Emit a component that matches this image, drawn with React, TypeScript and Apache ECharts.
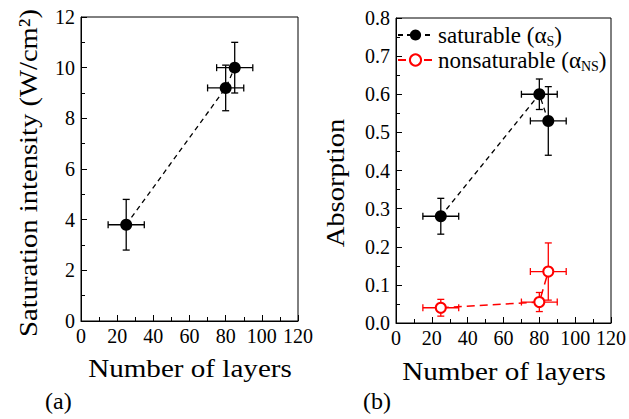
import React, { useEffect, useRef } from "react";
import * as echarts from "echarts";

// ---- data ----
const layers = [25, 80, 85];
const layersErr = [10, 10, 10];
const satIntensity = [3.8, 9.2, 10.0];
const satIntensityErr = [1.0, 0.9, 1.0];
const alphaS = [0.28, 0.6, 0.53];
const alphaSErr = [0.047, 0.04, 0.09];
const alphaNS = [0.04, 0.055, 0.135];
const alphaNSErr = [0.022, 0.025, 0.075];
const seriesNames = ["saturable", "nonsaturable"];
const legendLabels: Record<string, string> = {
  saturable: "saturable (α{sub|S})",
  nonsaturable: "nonsaturable (α{sub|NS})",
};

const FONT = "Liberation Serif";

function errorRenderer(color: string) {
  return (params: any, api: any) => {
    const x = api.value(0);
    const y = api.value(1);
    const xe = api.value(2);
    const ye = api.value(3);
    const top = api.coord([x, y + ye]);
    const bot = api.coord([x, y - ye]);
    const lft = api.coord([x - xe, y]);
    const rgt = api.coord([x + xe, y]);
    const cap = 3.5;
    const style = { stroke: color, lineWidth: 1.3, fill: null };
    const ln = (x1: number, y1: number, x2: number, y2: number) => ({
      type: "line",
      shape: { x1, y1, x2, y2 },
      style,
    });
    return {
      type: "group",
      children: [
        ln(top[0], top[1], bot[0], bot[1]),
        ln(top[0] - cap, top[1], top[0] + cap, top[1]),
        ln(bot[0] - cap, bot[1], bot[0] + cap, bot[1]),
        ln(lft[0], lft[1], rgt[0], rgt[1]),
        ln(lft[0], lft[1] - cap, lft[0], lft[1] + cap),
        ln(rgt[0], rgt[1] - cap, rgt[0], rgt[1] + cap),
      ],
    };
  };
}

function rows(xs: number[], xe: number[], ys: number[], ye: number[]) {
  return xs.map((x, i) => [x, ys[i], xe[i], ye[i]]);
}
function pts(xs: number[], ys: number[]) {
  return xs.map((x, i) => [x, ys[i]]);
}

function xAxisCfg(grid: number) {
  return {
    gridIndex: grid,
    type: "value",
    min: 0,
    max: 120,
    interval: 20,
    axisLine: { lineStyle: { color: "#000", width: 1 } },
    axisTick: { inside: true, length: 6, lineStyle: { color: "#000" } },
    minorTick: { show: true, splitNumber: 2, length: 4, lineStyle: { color: "#000" } },
    splitLine: { show: false },
    axisLabel: { color: "#000", fontFamily: FONT, fontSize: 20, margin: 5 },
  };
}

export default function App() {
  const ref = useRef<HTMLDivElement>(null);
  useEffect(() => {
    document.body.style.margin = "0";
    const chart = echarts.init(ref.current!, null, { renderer: "svg" });
    const option: any = {
      animation: false,
      backgroundColor: "#fff",
      textStyle: { fontFamily: FONT },
      grid: [
        { left: 81, top: 17, width: 217, height: 304, show: true, borderColor: "#000", borderWidth: 1 },
        { left: 396, top: 18, width: 217, height: 305, show: true, borderColor: "#000", borderWidth: 1 },
      ],
      xAxis: [xAxisCfg(0), xAxisCfg(1)],
      yAxis: [
        {
          gridIndex: 0,
          type: "value",
          min: 0,
          max: 12,
          interval: 2,
          axisLine: { show: true, lineStyle: { color: "#000", width: 1 } },
          axisTick: { show: true, inside: true, length: 6, lineStyle: { color: "#000" } },
          minorTick: { show: true, splitNumber: 2, length: 4, lineStyle: { color: "#000" } },
          splitLine: { show: false },
          axisLabel: { color: "#000", fontFamily: FONT, fontSize: 20, margin: 6 },
        },
        {
          gridIndex: 1,
          type: "value",
          min: 0,
          max: 0.8,
          interval: 0.1,
          axisLine: { show: true, lineStyle: { color: "#000", width: 1 } },
          axisTick: { show: true, inside: true, length: 6, lineStyle: { color: "#000" } },
          minorTick: { show: true, splitNumber: 2, length: 4, lineStyle: { color: "#000" } },
          splitLine: { show: false },
          axisLabel: {
            color: "#000",
            fontFamily: FONT,
            fontSize: 20,
            margin: 6,
            formatter: (v: number) => v.toFixed(1),
          },
        },
      ],
      legend: {
        orient: "vertical",
        left: 397,
        top: 22,
        padding: 0,
        itemWidth: 35,
        itemHeight: 14,
        itemGap: -1,
        data: seriesNames,
        formatter: (name: string) => legendLabels[name],
        textStyle: {
          color: "#000",
          fontFamily: FONT,
          fontSize: 23,
          lineHeight: 26,
          rich: {
            sub: { fontFamily: FONT, fontSize: 14, lineHeight: 11, verticalAlign: "bottom", color: "#000" },
          },
        },
      },
      series: [
        {
          name: "intensityErr",
          type: "custom",
          xAxisIndex: 0,
          yAxisIndex: 0,
          renderItem: errorRenderer("#000"),
          encode: { x: 0, y: 1 },
          data: rows(layers, layersErr, satIntensity, satIntensityErr),
          z: 1,
        },
        {
          name: "intensity",
          type: "line",
          xAxisIndex: 0,
          yAxisIndex: 0,
          data: pts(layers, satIntensity),
          symbol: "circle",
          symbolSize: 12,
          itemStyle: { color: "#000" },
          lineStyle: { color: "#000", width: 1.3, type: [5, 4] },
          z: 2,
        },
        {
          name: "saturableErr",
          type: "custom",
          xAxisIndex: 1,
          yAxisIndex: 1,
          renderItem: errorRenderer("#000"),
          encode: { x: 0, y: 1 },
          data: rows(layers, layersErr, alphaS, alphaSErr),
          z: 1,
        },
        {
          name: "nonsaturableErr",
          type: "custom",
          xAxisIndex: 1,
          yAxisIndex: 1,
          renderItem: errorRenderer("#ff0000"),
          encode: { x: 0, y: 1 },
          data: rows(layers, layersErr, alphaNS, alphaNSErr),
          z: 1,
        },
        {
          name: "saturable",
          type: "line",
          xAxisIndex: 1,
          yAxisIndex: 1,
          data: pts(layers, alphaS),
          symbol: "circle",
          symbolSize: 12,
          itemStyle: { color: "#000" },
          lineStyle: { color: "#000", width: 1.3, type: [5, 4] },
          z: 2,
        },
        {
          name: "nonsaturable",
          type: "line",
          xAxisIndex: 1,
          yAxisIndex: 1,
          data: pts(layers, alphaNS),
          symbol: "emptyCircle",
          symbolSize: 10,
          itemStyle: { color: "#ff0000", borderWidth: 2 },
          lineStyle: { color: "#ff0000", width: 1.5, type: [8, 5] },
          z: 2,
        },
      ],
      graphic: [
        {
          type: "text",
          x: 190,
          y: 368,
          scaleX: 1.12,
          style: { text: "Number of layers", fontFamily: FONT, fontSize: 26, fill: "#000", align: "center", verticalAlign: "middle" },
        },
        {
          type: "text",
          x: 504,
          y: 371,
          scaleX: 1.12,
          style: { text: "Number of layers", fontFamily: FONT, fontSize: 26, fill: "#000", align: "center", verticalAlign: "middle" },
        },
        {
          type: "text",
          x: 28,
          y: 173,
          rotation: Math.PI / 2,
          scaleX: 1.1,
          style: { text: "Saturation intensity (W/cm²)", fontFamily: FONT, fontSize: 26, fill: "#000", align: "center", verticalAlign: "middle" },
        },
        {
          type: "text",
          x: 335,
          y: 183,
          rotation: Math.PI / 2,
          scaleX: 1.1,
          style: { text: "Absorption", fontFamily: FONT, fontSize: 26, fill: "#000", align: "center", verticalAlign: "middle" },
        },
        {
          type: "text",
          x: 45,
          y: 401,
          style: { text: "(a)", fontFamily: FONT, fontSize: 24, fill: "#000", align: "left", verticalAlign: "middle" },
        },
        {
          type: "text",
          x: 363,
          y: 401,
          style: { text: "(b)", fontFamily: FONT, fontSize: 24, fill: "#000", align: "left", verticalAlign: "middle" },
        },
      ],
    };
    chart.setOption(option);
    return () => chart.dispose();
  }, []);
  return <div ref={ref} style={{ width: 629, height: 419 }} />;
}
